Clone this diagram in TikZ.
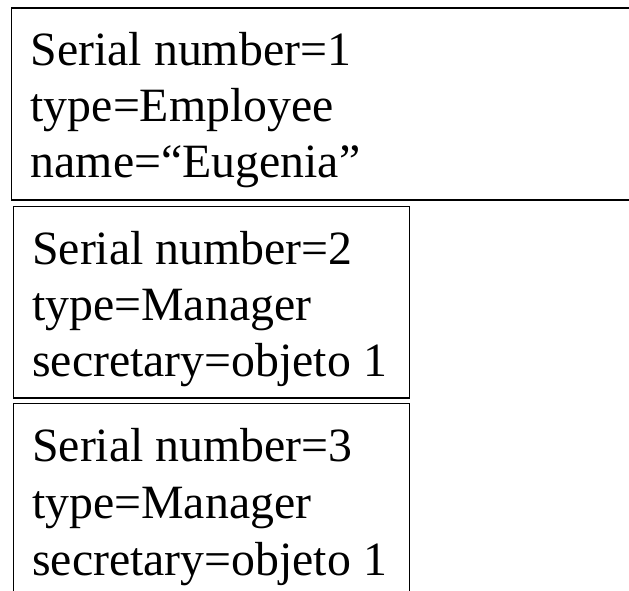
\documentclass[tikz,border=0pt]{standalone}
\usepackage{fontspec}
\setmainfont{Liberation Serif}
\begin{document}
\begin{tikzpicture}[x=1pt,y=-1pt,
  objbox/.style={draw=black,line width=1.6pt,inner sep=0pt,anchor=north west},
  objline/.style={anchor=base west,inner sep=0pt,font=\fontsize{47.8}{56}\selectfont}]
\useasboundingbox (0,0) rectangle (629,590);
% boxes
\node[objbox,minimum width=640pt,minimum height=192pt] (b1) at (10.5,7) {};
\node[objbox,minimum width=396pt,minimum height=191.5pt] (b2) at (12.5,205.5) {};
\node[objbox,minimum width=396pt,minimum height=200pt] (b3) at (12.5,402.5) {};
% box 1 text
\node[objline] (l11) at (30.5,65) {Serial number=1};
\node[objline] (l12) at (30.5,121) {type=Employee};
\node[objline] (l13) at (30.5,177) {name=“Eugenia”};
% box 2 text
\node[objline] (l21) at (32,264.3) {Serial number=2};
\node[objline] (l22) at (32,320.5) {type=Manager};
\node[objline] (l23) at (32,376.5) {secretary=objeto 1};
% box 3 text
\node[objline] (l31) at (32,461.7) {Serial number=3};
\node[objline] (l32) at (32,518) {type=Manager};
\node[objline] (l33) at (32,575) {secretary=objeto 1};
\end{tikzpicture}
\end{document}
